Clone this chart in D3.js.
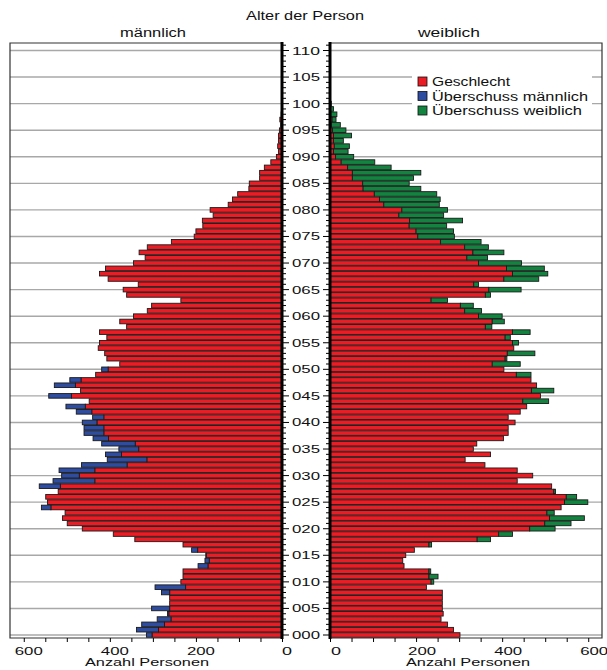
<!DOCTYPE html>
<html><head><meta charset="utf-8">
<script src="https://cdn.jsdelivr.net/npm/d3@7/dist/d3.min.js"></script>
<style>body{margin:0;background:#fff}text{font-family:"Liberation Sans",Arial,sans-serif;fill:#111}</style>
</head><body><svg id="c" width="607" height="670"></svg>
<script>
const ages = d3.range(0, 101);
const male = [315,338,326,290,266,303,261,261,280,295,235,230,230,195,179,177,210,230,342,392,
464,499,510,504,559,545,549,520,564,532,512,518,466,406,410,379,419,439,460,460,
464,440,478,502,448,542,468,529,493,433,419,377,407,412,427,424,407,424,361,377,
345,313,303,235,361,369,334,404,424,410,345,318,332,313,257,204,200,184,185,160,
167,125,115,103,77,76,52,52,41,26,13,8,10,8,8,6,3,5,2,1,0];
const female = [302,287,273,258,263,261,261,261,261,224,241,251,234,172,169,176,196,236,373,424,
523,560,591,521,537,599,573,524,515,435,471,435,360,314,373,333,341,403,414,414,
430,414,442,457,508,489,520,480,467,467,404,442,411,476,427,438,419,465,376,405,
400,352,333,273,373,444,345,485,506,498,445,366,404,368,351,289,287,271,308,264,
273,254,256,248,211,184,194,211,142,104,55,42,45,31,50,37,24,14,16,8,3];
const ageTicks = d3.range(0, 111, 5);
const xTicks = [0, 200, 400, 600];
const legendLabels = ["Geschlecht", "Überschuss männlich", "Überschuss weiblich"];
const colors = {red: "#ec1c24", blue: "#2e4ca0", green: "#138440"};

const svg = d3.select("#c");
const yTop = 43, yBot = 638;
const y = d3.scaleLinear().domain([0, 110]).range([635, 50.5]);
const xL = d3.scaleLinear().domain([0, 632]).range([282, 10]);
const xR = d3.scaleLinear().domain([0, 632]).range([330, 602]);
const bh = 4.6;

const rows = ages.map((a, i) => ({age: a, m: male[i], f: female[i], mn: Math.min(male[i], female[i])}));

// gridlines
const g = svg.append("g").attr("stroke", "#a8a8a8").attr("stroke-width", 1.4);
ageTicks.forEach(t => {
  g.append("line").attr("x1", xL(632)).attr("x2", xL(0)).attr("y1", y(t)).attr("y2", y(t));
  g.append("line").attr("x1", xR(0)).attr("x2", xR(632)).attr("y1", y(t)).attr("y2", y(t));
});

// bars
const bars = svg.append("g").attr("stroke", "#1a1a1a").attr("stroke-width", 0.9);
rows.forEach(r => {
  if (r.mn > 0) {
    bars.append("rect").attr("x", xL(r.mn)).attr("width", xL(0) - xL(r.mn)).attr("y", y(r.age) - bh / 2).attr("height", bh).attr("fill", colors.red);
    bars.append("rect").attr("x", xR(0)).attr("width", xR(r.mn) - xR(0)).attr("y", y(r.age) - bh / 2).attr("height", bh).attr("fill", colors.red);
  }
  if (r.m > r.mn) bars.append("rect").attr("x", xL(r.m)).attr("width", xL(r.mn) - xL(r.m)).attr("y", y(r.age) - bh / 2).attr("height", bh).attr("fill", colors.blue);
  if (r.f > r.mn) bars.append("rect").attr("x", xR(r.mn)).attr("width", xR(r.f) - xR(r.mn)).attr("y", y(r.age) - bh / 2).attr("height", bh).attr("fill", colors.green);
});

// frame borders
svg.append("path").attr("d", `M282,${yTop}H10V${yBot}H282`).attr("fill", "none").attr("stroke", "#333").attr("stroke-width", 1.2);
svg.append("path").attr("d", `M330,${yTop}H602V${yBot}H330`).attr("fill", "none").attr("stroke", "#333").attr("stroke-width", 1.2);

// center axes
const ax = svg.append("g").attr("stroke", "#000");
ax.append("line").attr("x1", 282).attr("x2", 282).attr("y1", yTop - 1).attr("y2", yBot + 1).attr("stroke-width", 3);
ax.append("line").attr("x1", 330).attr("x2", 330).attr("y1", yTop - 1).attr("y2", yBot + 1).attr("stroke-width", 3);
d3.range(0, 112).forEach(a => {
  const major = a % 5 === 0;
  const len = major ? 7 : 4;
  ax.append("line").attr("x1", 282).attr("x2", 282 + len).attr("y1", y(a)).attr("y2", y(a)).attr("stroke-width", 1);
  ax.append("line").attr("x1", 330).attr("x2", 330 - len).attr("y1", y(a)).attr("y2", y(a)).attr("stroke-width", 1);
});
ageTicks.forEach(t => {
  svg.append("text").attr("x", 306).attr("y", y(t) + 4).attr("text-anchor", "middle").attr("font-size", 11)
    .attr("textLength", 28).attr("lengthAdjust", "spacingAndGlyphs").text(d3.format("03d")(t));
});

// bottom axes
const axL = d3.axisBottom(xL).tickValues(d3.range(0, 601, 50)).tickSize(4).tickFormat("");
const axR = d3.axisBottom(xR).tickValues(d3.range(0, 601, 50)).tickSize(4).tickFormat("");
svg.append("g").attr("transform", `translate(0,${yBot})`).call(axL).call(s => s.select(".domain").remove());
svg.append("g").attr("transform", `translate(0,${yBot})`).call(axR).call(s => s.select(".domain").remove());
xTicks.forEach(t => {
  const w = t === 0 ? 10 : 28;
  svg.append("text").attr("x", xL(t) + 5).attr("y", 655).attr("text-anchor", "middle").attr("font-size", 11)
    .attr("textLength", w).attr("lengthAdjust", "spacingAndGlyphs").text(t);
  svg.append("text").attr("x", xR(t) + 6).attr("y", 655).attr("text-anchor", "middle").attr("font-size", 11)
    .attr("textLength", w).attr("lengthAdjust", "spacingAndGlyphs").text(t);
});
svg.append("text").attr("x", 147).attr("y", 666).attr("text-anchor", "middle").attr("font-size", 11.5)
  .attr("textLength", 124).attr("lengthAdjust", "spacingAndGlyphs").text("Anzahl Personen");
svg.append("text").attr("x", 468).attr("y", 666).attr("text-anchor", "middle").attr("font-size", 11.5)
  .attr("textLength", 124).attr("lengthAdjust", "spacingAndGlyphs").text("Anzahl Personen");

// titles
svg.append("text").attr("x", 305).attr("y", 20).attr("text-anchor", "middle").attr("font-size", 12)
  .attr("textLength", 118).attr("lengthAdjust", "spacingAndGlyphs").text("Alter der Person");
svg.append("text").attr("x", 153).attr("y", 37).attr("text-anchor", "middle").attr("font-size", 12)
  .attr("textLength", 66).attr("lengthAdjust", "spacingAndGlyphs").text("männlich");
svg.append("text").attr("x", 449).attr("y", 37).attr("text-anchor", "middle").attr("font-size", 12)
  .attr("textLength", 62).attr("lengthAdjust", "spacingAndGlyphs").text("weiblich");

// legend
const lg = svg.append("g");
lg.append("rect").attr("x", 412).attr("y", 72).attr("width", 180).attr("height", 44).attr("fill", "#fff");
const lc = [colors.red, colors.blue, colors.green];
const lw = [78, 156, 150];
legendLabels.forEach((l, i) => {
  lg.append("rect").attr("x", 418).attr("y", 77 + i * 14.5).attr("width", 9).attr("height", 9)
    .attr("fill", lc[i]).attr("stroke", "#111").attr("stroke-width", 0.8);
  lg.append("text").attr("x", 432).attr("y", 86 + i * 14.5).attr("font-size", 12)
    .attr("textLength", lw[i]).attr("lengthAdjust", "spacingAndGlyphs").text(l);
});
</script></body></html>
